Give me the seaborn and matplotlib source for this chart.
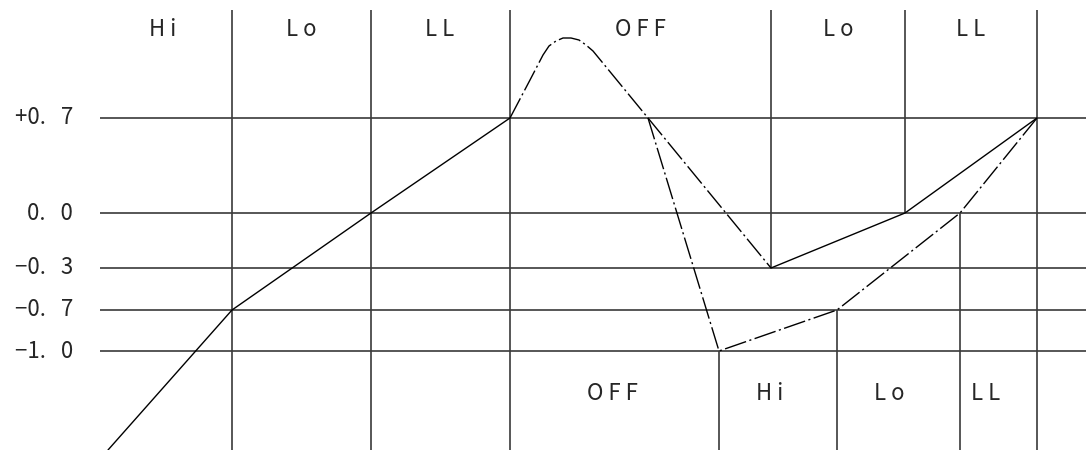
import matplotlib
matplotlib.use("Agg")
import matplotlib.pyplot as plt
import numpy as np
import pandas as pd
import seaborn as sns

# schematic drawn in pixel-like units (x to the right, y downwards)
level_labels = ["+0.   7", "0.   0", "−0.   3", "−0.   7", "−1.   0"]
level_y = [118, 213, 268, 310, 351]

# vertical dividers: x, top, bottom
div_x = [232, 371, 510, 771, 905, 1037, 719, 837, 960]
div_top = [10, 10, 10, 10, 10, 10, 351, 310, 213]
div_bottom = [450, 450, 450, 268, 213, 450, 450, 450, 450]

top_labels = ["H i", "L o", "L L", "O F F", "L o", "L L"]
top_x = [163, 301, 440, 640, 838, 971]
bottom_labels = ["O F F", "H i", "L o", "L L"]
bottom_x = [612, 770, 889, 986]

# signal paths
rise_x = [108, 232, 371, 510]
rise_y = [450, 310, 213, 118]
hump_x = [510, 530, 543, 549, 556, 563, 571, 579, 586, 593, 648]
hump_y = [118, 80, 55, 46, 41, 38, 38, 40, 45, 51, 118]
upper_dash_x = [648, 771]
upper_dash_y = [118, 268]
upper_solid_x = [771, 905, 1037]
upper_solid_y = [268, 213, 118]
lower_x = [648, 719, 837, 960, 1037]
lower_y = [118, 351, 310, 213, 118]

sns.set_style("white")
plt.rcParams["font.family"] = ["Noto Sans CJK JP", "DejaVu Sans"]

fig = plt.figure(figsize=(10.86, 4.5), dpi=100)
ax = fig.add_axes([0, 0, 1, 1])
ax.set_xlim(0, 1086)
ax.set_ylim(450, 0)
ax.axis("off")

grid_col = "#3a3a3a"
ax.hlines(level_y, 100, 1086, color=grid_col, lw=1.2)
ax.vlines(div_x, div_top, div_bottom, color=grid_col, lw=1.2)

dashdot = (0, (16, 2.5, 1.5, 2.5))
sns.lineplot(x=rise_x, y=rise_y, sort=False, estimator=None, color="black", lw=1.0, ax=ax)
sns.lineplot(x=hump_x, y=hump_y, sort=False, estimator=None, color="black", lw=1.0,
             linestyle=dashdot, ax=ax)
sns.lineplot(x=upper_dash_x, y=upper_dash_y, sort=False, estimator=None, color="black", lw=1.0,
             linestyle=dashdot, ax=ax)
sns.lineplot(x=upper_solid_x, y=upper_solid_y, sort=False, estimator=None, color="black", lw=1.0, ax=ax)
sns.lineplot(x=lower_x, y=lower_y, sort=False, estimator=None, color="black", lw=1.0,
             linestyle=dashdot, ax=ax)

fs = 16
for lab, y in zip(level_labels, level_y):
    ax.text(73, y, lab, ha="right", va="center", fontsize=fs)
for lab, x in zip(top_labels, top_x):
    ax.text(x, 30, lab, ha="center", va="center", fontsize=fs)
for lab, x in zip(bottom_labels, bottom_x):
    ax.text(x, 393, lab, ha="center", va="center", fontsize=fs)

fig.savefig("out.png", dpi=100)
